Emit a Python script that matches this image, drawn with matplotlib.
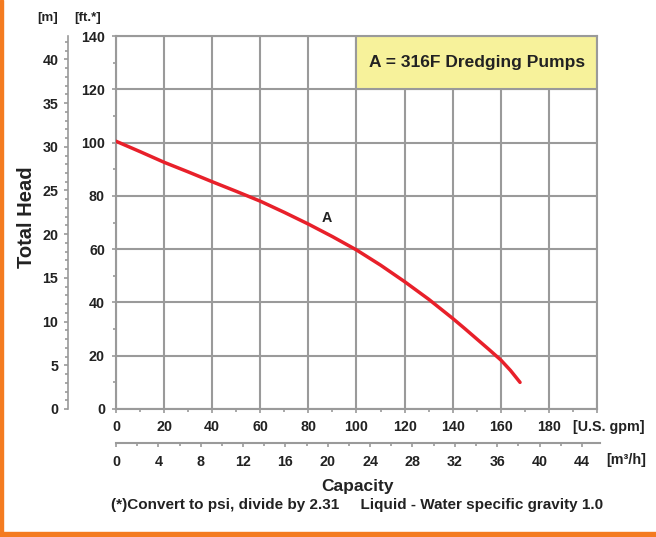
import numpy as np
import matplotlib.pyplot as plt
from matplotlib.ticker import MultipleLocator

# ================================
# Pump curve data
# ================================
flow_gpm = [0, 10, 20, 30, 40, 50, 60, 70, 80, 90, 100, 110, 120, 130, 140,
            145, 150, 155, 160, 164, 168]
head_ft = [100.5, 96.6, 92.6, 89.0, 85.3, 81.7, 78.0, 73.8, 69.4, 64.7, 59.7,
           54.0, 47.8, 41.2, 34.0, 30.2, 26.3, 22.4, 18.4, 14.5, 10.0]

curve_label = "A"
label_pos = (87.6, 71.7)
legend_text = "A = 316F Dredging Pumps"

FT_PER_M = 3.2808
GPM_PER_M3H = 4.4029

plt.rcParams['font.family'] = ['Liberation Sans', 'DejaVu Sans']

grid_c = '#9a9a9a'
txt_c = '#222222'
orange = '#F47B20'
tick_fs = 10.3

fig = plt.figure(figsize=(6.56, 5.37), dpi=100)
W, H = 656, 537

def fx(px):
    return px / W

def fy(py):
    return 1 - py / H

# main axes: ft / gpm
x0, x1, y0, y1 = 116, 597, 409, 36
ax = fig.add_axes([fx(x0), fy(y0), fx(x1) - fx(x0), fy(y1) - fy(y0)])
ax.set_xlim(0, 200)
ax.set_ylim(0, 140)
ax.set_xticks(np.arange(0, 201, 20))
ax.set_yticks(np.arange(0, 141, 20))
ax.xaxis.set_minor_locator(MultipleLocator(10))
ax.yaxis.set_minor_locator(MultipleLocator(10))
ax.grid(True, which='major', color=grid_c, linewidth=1.5)
for s in ax.spines.values():
    s.set_color(grid_c)
    s.set_linewidth(1.5)
ax.tick_params(which='both', color=grid_c, width=1.2, labelcolor=txt_c,
               labelsize=tick_fs)
ax.tick_params(which='major', length=3, pad=5)
ax.tick_params(which='minor', length=2.5)
ax.set_xticklabels([str(v) for v in range(0, 181, 20)] + [''], fontweight='bold')
ax.set_yticklabels([str(v) for v in range(0, 141, 20)], fontweight='bold')

# legend box
ax.add_patch(plt.Rectangle((100, 120), 100, 20, facecolor='#F7F29B',
                           edgecolor=grid_c, linewidth=1.5, zorder=2))
ax.text(150, 130, legend_text, ha='center', va='center', fontsize=12.5,
        fontweight='bold', color=txt_c, zorder=4)

# curve
ax.plot(flow_gpm, head_ft, color='#E8202A', linewidth=2.5,
        solid_capstyle='round', solid_joinstyle='round', zorder=3)
ax.text(label_pos[0], label_pos[1], curve_label, fontsize=tick_fs,
        fontweight='bold', color=txt_c, ha='center', va='center')

# meter axis on the left
axm = fig.add_axes([fx(68), fy(y0), 0.0001, fy(y1) - fy(y0)])
axm.set_ylim(0, 140 / FT_PER_M)
axm.set_yticks(np.arange(0, 41, 5))
axm.yaxis.set_minor_locator(MultipleLocator(1))
axm.set_xticks([])
for k in ['top', 'right', 'bottom']:
    axm.spines[k].set_visible(False)
axm.spines['left'].set_color(grid_c)
axm.spines['left'].set_linewidth(1.2)
axm.patch.set_visible(False)
axm.tick_params(which='both', color=grid_c, width=1.2, labelcolor=txt_c,
                labelsize=tick_fs)
axm.tick_params(which='major', length=3, pad=4)
axm.tick_params(which='minor', length=2)
axm.set_yticklabels([str(v) for v in range(0, 41, 5)], fontweight='bold')

# m3/h axis at the bottom
axq = fig.add_axes([fx(x0), fy(443), fx(600) - fx(x0), 0.0001])
axq.set_xlim(0, (600 - x0) / (x1 - x0) * 200 / GPM_PER_M3H)
axq.set_xticks(np.arange(0, 45, 4))
axq.xaxis.set_minor_locator(MultipleLocator(2))
axq.set_yticks([])
for k in ['top', 'right', 'left']:
    axq.spines[k].set_visible(False)
axq.spines['bottom'].set_color(grid_c)
axq.spines['bottom'].set_linewidth(1.5)
axq.patch.set_visible(False)
axq.tick_params(which='both', color=grid_c, width=1.2, labelcolor=txt_c,
                labelsize=tick_fs)
axq.tick_params(which='major', length=3, pad=6)
axq.tick_params(which='minor', length=2.5)
axq.set_xticklabels([str(v) for v in range(0, 45, 4)], fontweight='bold')

# texts
def ftext(px, py, s, **kw):
    fig.text(fx(px), fy(py), s, color=txt_c, fontweight='bold', **kw)

ftext(48, 18, "[m]", fontsize=9.5, ha='center', va='center')
ftext(88, 18, "[ft.*]", fontsize=9.5, ha='center', va='center')
ftext(609, 427, "[U.S. gpm]", fontsize=tick_fs, ha='center', va='center')
ftext(626, 460, "[m³/h]", fontsize=tick_fs, ha='center', va='center')
ftext(357, 486, "Capacity", fontsize=12.5, ha='center', va='center')
ftext(357, 505, "(*)Convert to psi, divide by 2.31     Liquid - Water specific gravity 1.0",
      fontsize=11, ha='center', va='center')
fig.text(fx(27), fy(217), "Total Head", rotation=90, fontsize=14.5,
         fontweight='bold', color=txt_c, ha='center', va='center')

# orange frame (left edge and bottom bar)
fig.patches.append(plt.Rectangle((0, 0), fx(2.5), 1, transform=fig.transFigure,
                                 color=orange, zorder=5))
fig.patches.append(plt.Rectangle((0, 0), 1, 5.5 / H, transform=fig.transFigure,
                                 color=orange, zorder=5))

plt.savefig("out.png", dpi=100)
